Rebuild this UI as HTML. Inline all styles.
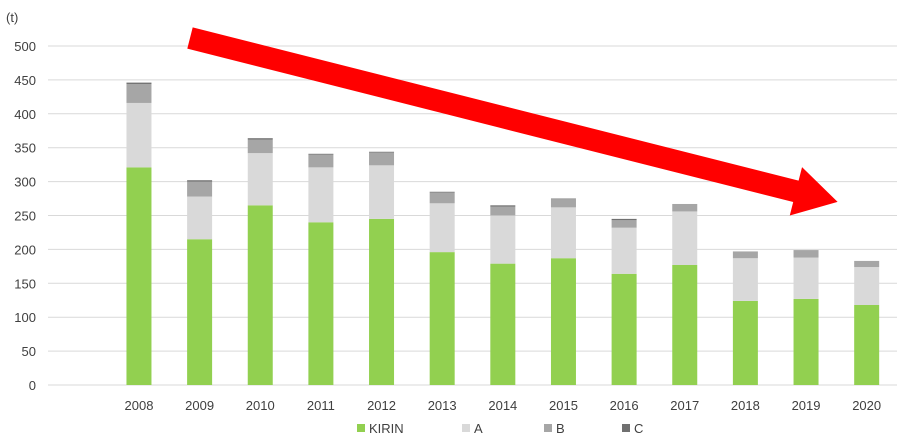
<!DOCTYPE html>
<html><head><meta charset="utf-8"><style>
body{margin:0;background:#fff;font-family:"Liberation Sans",Verdana,sans-serif;}
svg text{font-family:"Liberation Sans",Verdana,sans-serif;font-size:13px;fill:#404040;}
</style></head><body>
<svg id="chart" width="897" height="439" xmlns="http://www.w3.org/2000/svg">
<g id="grid"></g><g id="bars"></g><g id="labels"></g>
<text x="6" y="22">(t)</text>
<g transform="translate(190,38) rotate(14.2)">
<polygon points="0,-11 625,-11 625,-25 668,0 625,25 625,11 0,11" fill="#ff0000"/>
</g>
<g>
<rect x="357" y="424" width="8" height="8" fill="#92d050"/>
<text x="369" y="433">KIRIN</text>
<rect x="462" y="424" width="8" height="8" fill="#d9d9d9"/>
<text x="474" y="433">A</text>
<rect x="544" y="424" width="8" height="8" fill="#a6a6a6"/>
<text x="556" y="433">B</text>
<rect x="622" y="424" width="8" height="8" fill="#707070"/>
<text x="634" y="433">C</text>
</g>
</svg>
<script>
const categories=["","2008","2009","2010","2011","2012","2013","2014","2015","2016","2017","2018","2019","2020"];
const kirin=[0,321,215,265,240,245,196,179,187,164,177,124,127,118];
const seriesA=[0,95,63,77,81,79,72,71,75,68,79,63,61,56];
const seriesB=[0,28,22,20,19,19,16,13,12,11,11,10,11,9];
const seriesC=[0,2,2,2,1,1,1,2,1,2,0,0,0,0];
const yTicks=[0,50,100,150,200,250,300,350,400,450,500];
const NS="http://www.w3.org/2000/svg";
const x0=48,x1=897,y0=385,y1=46,ymax=500;
const step=(x1-x0)/categories.length;
const xc=i=>x0+step*(i+0.5);
const y=v=>y0-(v/ymax)*(y0-y1);
const grid=document.getElementById('grid'),bars=document.getElementById('bars'),labels=document.getElementById('labels');
function mk(tag,attrs,parent){const e=document.createElementNS(NS,tag);for(const k in attrs)e.setAttribute(k,attrs[k]);parent.appendChild(e);return e;}
yTicks.forEach(t=>{
  const l=mk('line',{x1:x0,x2:x1,y1:y(t),y2:y(t),stroke:'#d9d9d9','stroke-width':1},grid);
  
  
  const tx=mk('text',{x:36,y:y(t)+5,'text-anchor':'end'},labels);
  tx.textContent=t;
  
  
});
const series=[[kirin,'#92d050','kirin'],[seriesA,'#d9d9d9','a'],[seriesB,'#a6a6a6','b'],[seriesC,'#707070','c']];
categories.forEach((c,i)=>{
  if(c==='')return;
  let base=0;const bw=25;
  series.forEach(([arr,col,nm])=>{
    const v=arr[i];
    const r=mk('rect',{x:xc(i)-bw/2,y:y(base+v),width:bw,height:y(base)-y(base+v),fill:col},bars);
    
    
    base+=v;
  });
  const tx=mk('text',{x:xc(i),y:410,'text-anchor':'middle'},labels);
  tx.textContent=c;
  
  
});
</script>
</body></html>
